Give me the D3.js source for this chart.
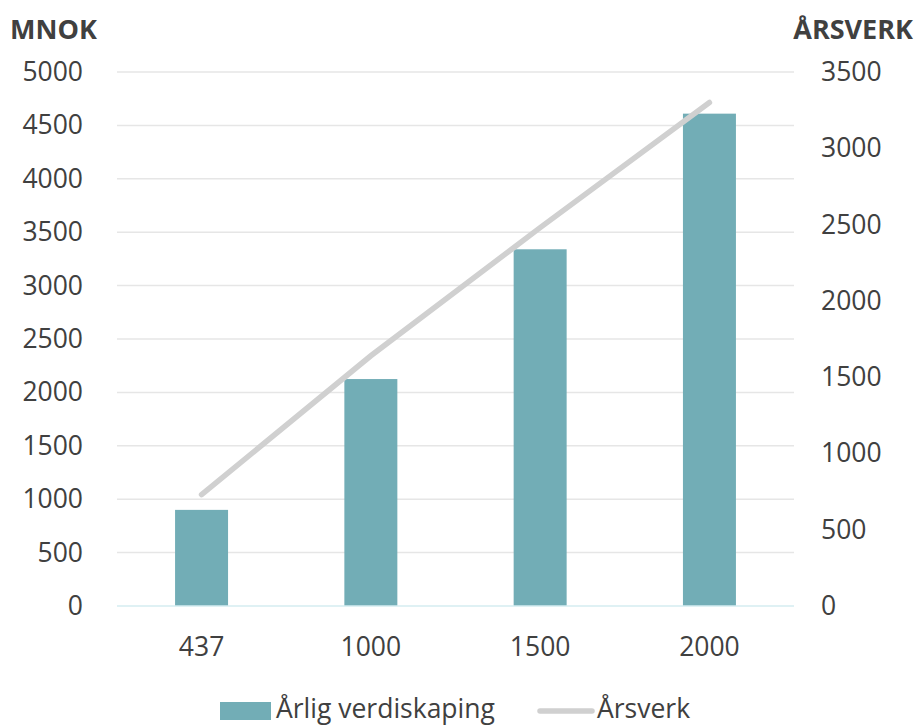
<!DOCTYPE html>
<html>
<head>
<meta charset="utf-8">
<script src="https://cdn.jsdelivr.net/npm/d3@7"></script>
<style>
body{margin:0;background:#fff;overflow:hidden;}
svg{font-family:"Open Sans",sans-serif;display:block;}
</style>
</head>
<body>
<div id="chart"></div>
<script>
const categories = ['437', '1000', '1500', '2000'];
const verdiskaping = [900, 2125, 3340, 4610];
const arsverk = [730, 1640, 2480, 3300];
const leftTicks = [0, 500, 1000, 1500, 2000, 2500, 3000, 3500, 4000, 4500, 5000];
const rightTicks = [0, 500, 1000, 1500, 2000, 2500, 3000, 3500];

const W = 919, H = 727;
const margin = {t:72, r:125, b:121, l:117};
const innerWidth = W - margin.l - margin.r;
const innerHeight = H - margin.t - margin.b;
const textColor = '#404040';

const scaleX = d3.scaleBand().domain(categories).range([0, innerWidth]).paddingInner(0.687).paddingOuter(0.343);
const scaleY = d3.scaleLinear().domain([0, 5000]).range([innerHeight, 0]);
const scaleY2 = d3.scaleLinear().domain([0, 3500]).range([innerHeight, 0]);

const svg = d3.select('#chart').append('svg')
	.attr('width', W)
	.attr('height', H);

const plot = svg.append('g')
	.attr('transform', `translate(${margin.l}, ${margin.t})`);

//gridlines
plot.append('g')
	.selectAll('line')
	.data(leftTicks.slice(1))
	.join('line')
	.attr('x1', 0).attr('x2', innerWidth)
	.attr('y1', d => scaleY(d)).attr('y2', d => scaleY(d))
	.style('stroke', '#e6e6e6')
	.style('stroke-width', 1.5);

//bars
plot.append('g')
	.selectAll('rect')
	.data(verdiskaping)
	.join('rect')
	.attr('x', (d, i) => scaleX(categories[i]))
	.attr('width', scaleX.bandwidth())
	.attr('y', d => scaleY(d))
	.attr('height', d => innerHeight - scaleY(d))
	.style('fill', '#72adb6');

//baseline
plot.append('line')
	.attr('x1', 0).attr('x2', innerWidth)
	.attr('y1', innerHeight).attr('y2', innerHeight)
	.style('stroke', '#d4ecf1')
	.style('stroke-width', 1.5);

//line
const lineGenerator = d3.line()
	.x((d, i) => scaleX(categories[i]) + scaleX.bandwidth() / 2)
	.y(d => scaleY2(d));

plot.append('path')
	.datum(arsverk)
	.attr('d', lineGenerator)
	.style('fill', 'none')
	.style('stroke', '#d0d0d0')
	.style('stroke-width', 5.5)
	.style('stroke-linecap', 'round');

//axes
const axisY = d3.axisLeft(scaleY).tickValues(leftTicks).tickFormat(d3.format('d')).tickSize(0).tickPadding(34);
const axisY2 = d3.axisRight(scaleY2).tickValues(rightTicks).tickFormat(d3.format('d')).tickSize(0).tickPadding(27);
const axisX = d3.axisBottom(scaleX).tickSize(0).tickPadding(31);

const gy = plot.append('g').call(axisY);
const gy2 = plot.append('g').attr('transform', `translate(${innerWidth}, 0)`).call(axisY2);
const gx = plot.append('g').attr('transform', `translate(0, ${innerHeight})`).call(axisX);

[gy, gy2, gx].forEach(g => {
	g.select('.domain').remove();
	g.selectAll('text')
		.style('font-family', '"Open Sans", sans-serif')
		.style('font-size', '26.5px')
		.style('fill', textColor);
});

//axis titles
svg.append('text')
	.attr('x', 10).attr('y', 39)
	.text('MNOK')
	.style('font-weight', 'bold')
	.style('font-size', '27px')
	.style('fill', textColor);

svg.append('text')
	.attr('x', 913).attr('y', 39)
	.attr('text-anchor', 'end')
	.text('ÅRSVERK')
	.style('font-weight', 'bold')
	.style('font-size', '27px')
	.style('fill', textColor);

//legend
const legend = svg.append('g').attr('transform', 'translate(0, 711)');
legend.append('rect')
	.attr('x', 220).attr('y', -9)
	.attr('width', 51).attr('height', 18)
	.style('fill', '#72adb6');
legend.append('text')
	.attr('x', 276).attr('y', 7)
	.text('Årlig verdiskaping')
	.style('font-size', '26.5px')
	.style('fill', textColor);
legend.append('line')
	.attr('x1', 540).attr('x2', 592)
	.attr('y1', 0).attr('y2', 0)
	.style('stroke', '#d0d0d0')
	.style('stroke-width', 5.5)
	.style('stroke-linecap', 'round');
legend.append('text')
	.attr('x', 597).attr('y', 7)
	.text('Årsverk')
	.style('font-size', '26.5px')
	.style('fill', textColor);
</script>
</body>
</html>
